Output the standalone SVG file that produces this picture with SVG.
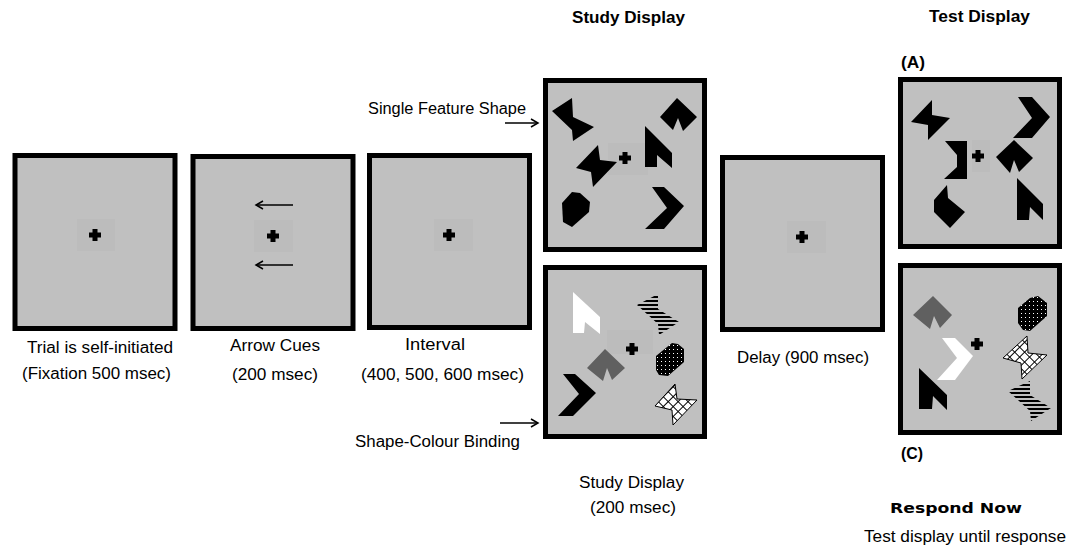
<svg xmlns="http://www.w3.org/2000/svg" width="1071" height="553" viewBox="0 0 1071 553">
<style>
.panel{fill:#c0c0c0;stroke:#000;stroke-width:5}
.fixbg{fill:#bcbcbc}
.t{font-family:"Liberation Sans",Arial,sans-serif;font-size:16px;fill:#000}
.b{font-family:"Liberation Sans",Arial,sans-serif;font-size:16px;font-weight:bold;fill:#000}
.rn{font-family:"DejaVu Sans",Verdana,sans-serif;font-size:14px;font-weight:bold;fill:#000}
.blk{fill:#000}
.wht{fill:#fff}
.dg{fill:#606060}
.str{fill:url(#stripes)}
.hat{fill:url(#hatch);stroke:#000;stroke-width:1}
.dot{fill:url(#dots)}
.conn{stroke:#000;stroke-width:1.5;fill:none}
</style>
<defs>
<pattern id="stripes" patternUnits="userSpaceOnUse" width="8" height="4"><rect x="0" y="0" width="8" height="2" fill="#000"/></pattern>
<pattern id="hatch" patternUnits="userSpaceOnUse" width="7" height="7" patternTransform="rotate(45)"><rect width="7" height="7" fill="#fff"/><rect width="7" height="1" fill="#000"/><rect width="1" height="7" fill="#000"/></pattern>
<pattern id="dots" patternUnits="userSpaceOnUse" width="4" height="4"><rect width="4" height="4" fill="#000"/><rect x="1" y="1" width="1" height="1" fill="#fff"/></pattern>
<marker id="ah" markerWidth="10" markerHeight="10" refX="8" refY="5" orient="auto" markerUnits="userSpaceOnUse"><path d="M1,1 L8,5 L1,9" fill="none" stroke="#000" stroke-width="1.5"/></marker>
<path id="fix" d="M-2.5,-6 h5 v3.5 h3.5 v5 h-3.5 v3.5 h-5 v-3.5 h-3.5 v-5 h3.5 z"/>
</defs>

<g id="panel-fixation">
<rect class="panel" x="15" y="155.5" width="160" height="173"/>
<rect class="fixbg" x="77" y="219" width="38" height="32"/>
<use href="#fix" x="95" y="235"/>
<text class="t" x="27" y="353" textLength="146" lengthAdjust="spacingAndGlyphs">Trial is self-initiated</text>
<text class="t" x="22" y="379" textLength="149" lengthAdjust="spacingAndGlyphs">(Fixation 500 msec)</text>
</g>

<g id="panel-arrow-cues">
<rect class="panel" x="193" y="156.5" width="160" height="172"/>
<rect class="fixbg" x="254" y="220" width="39" height="32"/>
<use href="#fix" x="273" y="236"/>
<line class="conn" x1="293" y1="205" x2="256" y2="205" marker-end="url(#ah)"/>
<line class="conn" x1="293" y1="265" x2="256" y2="265" marker-end="url(#ah)"/>
<text class="t" x="230" y="351" textLength="90" lengthAdjust="spacingAndGlyphs">Arrow Cues</text>
<text class="t" x="232" y="380" textLength="86" lengthAdjust="spacingAndGlyphs">(200 msec)</text>
</g>

<g id="panel-interval">
<rect class="panel" x="369.5" y="155.5" width="160" height="172"/>
<rect class="fixbg" x="434" y="219" width="39" height="32"/>
<use href="#fix" x="449" y="235"/>
<text class="t" x="405" y="350" textLength="60" lengthAdjust="spacingAndGlyphs">Interval</text>
<text class="t" x="361" y="380" textLength="163" lengthAdjust="spacingAndGlyphs">(400, 500, 600 msec)</text>
</g>

<g id="panel-study-single">
<rect class="panel" x="545.5" y="80.5" width="159" height="169"/>
<rect class="fixbg" x="608" y="143" width="40" height="32"/>
<use href="#fix" x="625" y="158"/>
<path class="blk" d="M552,111 L572,98 L573,117 L594,127 L573,141 L572,130 Z"/>
<path class="blk" d="M660,117 L677,98 L697,117 L683,131 L678,118 L673,130 Z"/>
<path class="blk" d="M576,168 L598,145 L600,160 L617,162 L593,187 L591,172 Z"/>
<path class="blk" d="M645,126 L672,153 L672,168 L657,155 L657,167 L645,167 Z"/>
<path class="blk" d="M562,203 L572,192 L580,193 L590,202 L589,212 L572,227 L563,222 Z"/>
<path class="blk" d="M652,187 L664,187 L684,206 L664,229 L645,229 L667,208 Z"/>
</g>

<g id="panel-study-binding">
<rect class="panel" x="545.5" y="267.5" width="159" height="169"/>
<rect class="fixbg" x="607" y="330" width="46" height="24"/>
<use href="#fix" x="632" y="349"/>
<path class="wht" d="M573,292 L600,317 L600,334 L585,322 L584,333 L573,333 Z"/>
<path class="str" d="M637,305 L658,294 L658,309 L679,322 L659,335 L658,324 Z"/>
<path class="dg" d="M587,368 L605,349 L625,368 L612,380 L607,368 L603,381 Z"/>
<path class="dot" d="M656,356 L672,343 L678,344 L684,349 L684,362 L668,376 L659,375 L656,370 Z"/>
<path class="blk" d="M563,374 L575,374 L596,393 L573,416 L558,416 L579,394 Z"/>
<path class="hat" d="M655,406 L675,384 L677,399 L697,400 L673,425 L672,410 Z"/>
</g>

<g id="panel-delay">
<rect class="panel" x="722.5" y="157.5" width="160" height="172"/>
<rect class="fixbg" x="787" y="221" width="39" height="32"/>
<use href="#fix" x="802" y="237"/>
<text class="t" x="737" y="363" textLength="132" lengthAdjust="spacingAndGlyphs">Delay (900 msec)</text>
</g>

<g id="panel-test-a">
<rect class="panel" x="900.5" y="79.5" width="159" height="167"/>
<rect class="fixbg" x="972" y="140" width="18" height="32"/>
<use href="#fix" x="978" y="156"/>
<path class="blk" d="M911,122 L932,100 L932,115 L950,118 L928,140 L928,125 Z"/>
<path class="blk" d="M1018,97 L1032,97 L1050,117 L1032,138 L1013,138 L1032,118 Z"/>
<path class="blk" d="M945,141 L967,141 L967,179 L944,179 L957,167 L957,155 Z"/>
<path class="blk" d="M996,157 L1014,140 L1033,158 L1019,172 L1014,160 L1010,173 Z"/>
<path class="blk" d="M934,200 L947,185 L948,198 L965,212 L950,228 L934,212 Z"/>
<path class="blk" d="M1017,178 L1043,204 L1043,220 L1030,207 L1029,220 L1017,220 Z"/>
</g>

<g id="panel-test-c">
<rect class="panel" x="900.5" y="265.5" width="159" height="167"/>
<use href="#fix" x="977" y="344"/>
<path class="dg" d="M913,315 L933,296 L952,315 L940,328 L934,316 L930,329 Z"/>
<path class="dot" d="M1018,308 L1030,298 L1038,296 L1047,303 L1047,316 L1030,331 L1023,330 L1018,323 Z"/>
<path class="wht" d="M942,338 L955,338 L973,356 L955,380 L937,380 L957,358 Z"/>
<path class="hat" d="M1003,358 L1027,336 L1028,353 L1047,355 L1022,379 L1021,363 Z"/>
<path class="blk" d="M919,368 L947,395 L947,410 L933,396 L932,409 L919,409 Z"/>
<path class="str" d="M1008,391 L1030,381 L1030,395 L1051,408 L1031,421 L1030,411 Z"/>
</g>

<g id="connectors">
<line class="conn" x1="505" y1="123" x2="538" y2="123" marker-end="url(#ah)"/>
<line class="conn" x1="500" y1="423" x2="538" y2="423" marker-end="url(#ah)"/>
</g>

<g id="labels">
<text class="b" x="572" y="23" textLength="113" lengthAdjust="spacingAndGlyphs">Study Display</text>
<text class="b" x="929" y="22" textLength="101" lengthAdjust="spacingAndGlyphs">Test Display</text>
<text class="b" x="901" y="68" textLength="24" lengthAdjust="spacingAndGlyphs">(A)</text>
<text class="b" x="901" y="459" textLength="22" lengthAdjust="spacingAndGlyphs">(C)</text>
<text class="t" x="368" y="114" textLength="158" lengthAdjust="spacingAndGlyphs">Single Feature Shape</text>
<text class="t" x="355" y="447" textLength="165" lengthAdjust="spacingAndGlyphs">Shape-Colour Binding</text>
<text class="t" x="579" y="488" textLength="105" lengthAdjust="spacingAndGlyphs">Study Display</text>
<text class="t" x="590" y="513" textLength="86" lengthAdjust="spacingAndGlyphs">(200 msec)</text>
<text class="rn" x="890" y="513" textLength="132" lengthAdjust="spacingAndGlyphs">Respond Now</text>
<text class="t" x="864" y="542" textLength="202" lengthAdjust="spacingAndGlyphs">Test display until response</text>
</g>
</svg>
